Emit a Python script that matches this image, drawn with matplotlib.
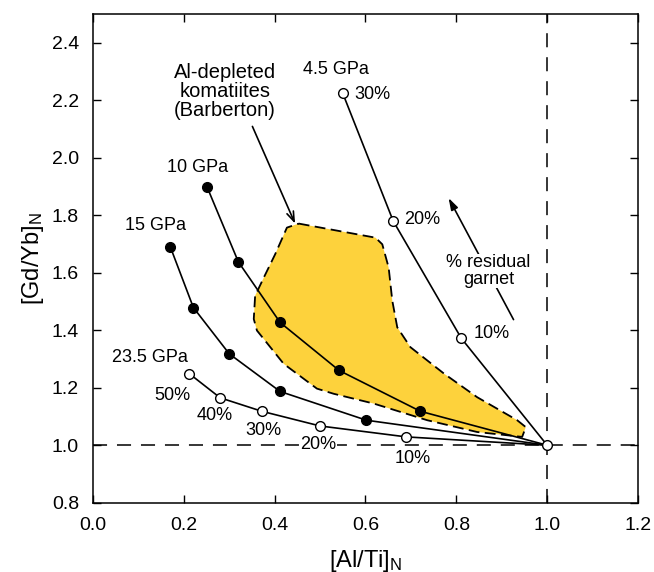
import numpy as np
import matplotlib
matplotlib.use("Agg")
import matplotlib.pyplot as plt
from matplotlib.patches import Polygon

plt.rcParams['font.family'] = ['Liberation Sans', 'DejaVu Sans']
plt.rcParams['mathtext.default'] = 'regular'

# melting trends, residual garnet steps
p45_x = [0.550, 0.661, 0.811]
p45_y = [2.224, 1.780, 1.372]
p45_pct = ["30%", "20%", "10%"]

p10_x = [0.251, 0.320, 0.412, 0.542, 0.721]
p10_y = [1.899, 1.638, 1.427, 1.260, 1.118]

p15_x = [0.170, 0.221, 0.300, 0.412, 0.602]
p15_y = [1.691, 1.479, 1.318, 1.187, 1.087]

p235_x = [0.212, 0.280, 0.372, 0.500, 0.690]
p235_y = [1.249, 1.165, 1.118, 1.067, 1.029]
p235_pct = ["50%", "40%", "30%", "20%", "10%"]

# source composition (no garnet left)
src_x, src_y = 1.0, 1.0

# Al-depleted komatiites field (Barberton)
field_x = [0.453, 0.622, 0.637, 0.651, 0.659, 0.670, 0.699, 0.773, 0.846, 0.934,
           0.953, 0.945, 0.846, 0.736, 0.618, 0.530, 0.493, 0.420, 0.361, 0.354,
           0.357, 0.376, 0.401, 0.427]
field_y = [1.771, 1.722, 1.699, 1.618, 1.503, 1.410, 1.341, 1.249, 1.167, 1.087,
           1.063, 1.029, 1.046, 1.087, 1.145, 1.179, 1.197, 1.283, 1.399, 1.439,
           1.520, 1.583, 1.664, 1.757]

fig = plt.figure(figsize=(6.54, 5.72), dpi=100)
ax = fig.add_axes([0.1422, 0.1211, 0.8333, 0.8544])

# reference lines
ax.axhline(1.0, color='black', lw=1.1, dashes=(9.2, 6.5), zorder=1)
ax.axvline(1.0, color='black', lw=1.1, dashes=(9.2, 6.5), zorder=1)

# komatiite field
field = Polygon(np.column_stack([field_x, field_y]), closed=True,
                facecolor='#fdd23c', edgecolor='none', zorder=2)
ax.add_patch(field)
ax.plot(field_x + field_x[:1], field_y + field_y[:1], color='black', lw=1.3,
        dashes=(6, 3), zorder=3)

# curves
lw = 1.2
for xs, ys, face in [(p45_x, p45_y, 'white'), (p10_x, p10_y, 'black'),
                     (p15_x, p15_y, 'black'), (p235_x, p235_y, 'white')]:
    ax.plot(xs + [src_x], ys + [src_y], color='black', lw=lw, zorder=4)
    ax.plot(xs, ys, 'o', ms=7, mfc=face, mec='black', mew=1.0, zorder=5)
ax.plot([src_x], [src_y], 'o', ms=7, mfc='white', mec='black', mew=1.0, zorder=6)

fs = 13
# pressure labels
ax.text(0.534, 2.306, "4.5 GPa", fontsize=fs, ha='center', va='center')
ax.text(0.230, 1.965, "10 GPa", fontsize=fs, ha='center', va='center')
ax.text(0.137, 1.766, "15 GPa", fontsize=fs, ha='center', va='center')
ax.text(0.126, 1.306, "23.5 GPa", fontsize=fs, ha='center', va='center')

# percentage labels
for (lx, ly), t in zip([(0.576, 2.221), (0.684, 1.786), (0.839, 1.387)], p45_pct):
    ax.text(lx, ly, t, fontsize=fs, ha='left', va='center')
for (lx, ly), t in zip([(0.175, 1.173), (0.268, 1.104), (0.376, 1.052),
                        (0.496, 1.003), (0.703, 0.954)], p235_pct):
    ax.text(lx, ly, t, fontsize=fs, ha='center', va='center',
            bbox=dict(facecolor='white', edgecolor='none', pad=0.5), zorder=7)

# field label + arrow
ax.text(0.291, 2.232, "Al-depleted\nkomatiites\n(Barberton)", fontsize=14.5,
        ha='center', va='center', linespacing=1.0)
ax.annotate("", xy=(0.445, 1.771), xytext=(0.351, 2.109),
            arrowprops=dict(arrowstyle='->,head_length=0.7,head_width=0.25',
                            color='black', lw=1.2, shrinkA=0, shrinkB=0))

# residual garnet arrow
ax.annotate("", xy=(0.783, 1.860), xytext=(0.926, 1.437),
            arrowprops=dict(arrowstyle='-|>,head_length=0.7,head_width=0.22',
                            color='black', lw=1.2, shrinkA=0, shrinkB=0), zorder=4)
ax.text(0.871, 1.606, "% residual\ngarnet", fontsize=fs, ha='center', va='center',
        linespacing=0.95, bbox=dict(facecolor='white', edgecolor='none', pad=0.5),
        zorder=5)

ax.set_xlim(0, 1.2)
ax.set_ylim(0.8, 2.5)
ax.set_xticks(np.arange(0, 1.21, 0.2))
ax.set_yticks(np.arange(0.8, 2.41, 0.2))
ax.xaxis.set_major_formatter(matplotlib.ticker.FormatStrFormatter('%.1f'))
ax.yaxis.set_major_formatter(matplotlib.ticker.FormatStrFormatter('%.1f'))
ax.tick_params(direction='in', top=True, right=True, length=6, width=1.0,
               labelsize=14, pad=10)
for s in ax.spines.values():
    s.set_linewidth(1.1)

ax.set_xlabel("[Al/Ti]$_N$", fontsize=17, labelpad=10)
ax.set_ylabel("[Gd/Yb]$_N$", fontsize=17, labelpad=4)

fig.savefig("out.png", dpi=100)
